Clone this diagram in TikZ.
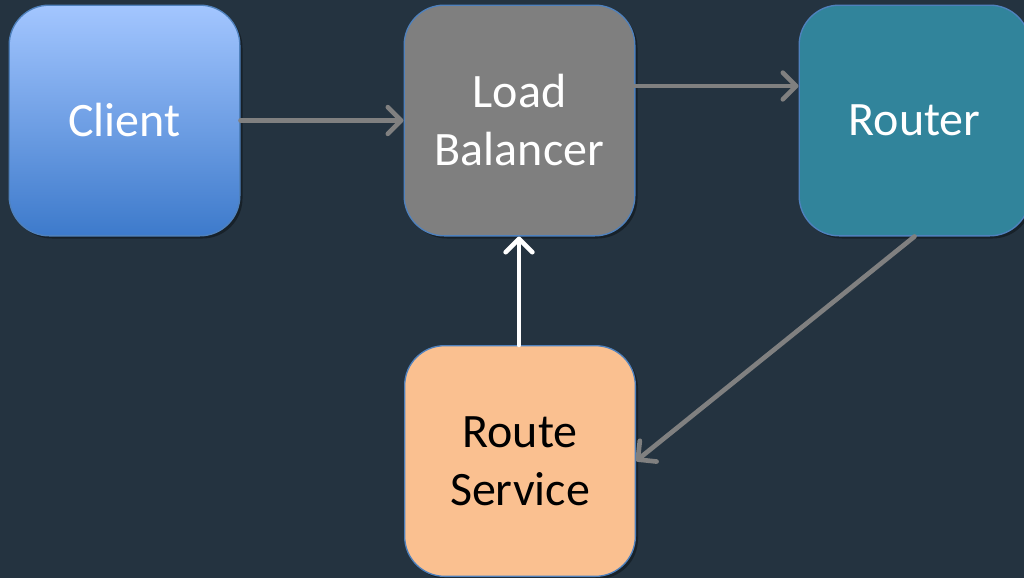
\documentclass[tikz,border=0pt]{standalone}
\usepackage{fontspec}
\setmainfont{Carlito}
\usetikzlibrary{arrows.meta,shadows}
\definecolor{bg}{HTML}{243340}
\definecolor{edgeblue}{HTML}{4F81BD}
\definecolor{cltop}{HTML}{A3C6FF}
\definecolor{clbot}{HTML}{3D7ACB}
\definecolor{lbgray}{HTML}{7F7F7F}
\definecolor{rtteal}{HTML}{31849B}
\definecolor{rspeach}{HTML}{FAC090}
\definecolor{arrgray}{HTML}{808080}
\tikzset{
  box/.style={draw=edgeblue, line width=1pt, rounded corners=30pt,
    minimum width=173pt, minimum height=173pt, align=center,
    font=\fontsize{36}{43.5}\selectfont, inner sep=0pt,
    drop shadow={shadow xshift=2pt, shadow yshift=-2pt, opacity=0.35, fill=black}},
  conn/.style={line width=3.5pt, draw=arrgray, line cap=round,
    -{Straight Barb[length=10pt,width=20pt,line width=3.5pt,round]}},
  wconn/.style={conn, draw=white}
}
\begin{document}
\begin{tikzpicture}[x=0.75pt,y=-0.75pt]
\useasboundingbox (0,0) rectangle (1024,578);
\fill[bg] (0,0) rectangle (1024,578);
\clip (0,0) rectangle (1024,578);
\node[box, top color=cltop, bottom color=clbot, text=white] (client) at (124.5,120.5) {Client};
\node[box, fill=lbgray, text=white] (lb) at (519.5,120.5) {Load\\Balancer};
\node[box, fill=rtteal, text=white] (router) at (914.5,120.5) {Router};
\node[box, fill=rspeach, text=black] (rs) at (520,461) {Route\\Service};
\draw[conn] (client.east) -- (lb.west);
\draw[conn] (lb.east |- 0,86) -- (router.west |- 0,86);
\draw[conn] (router.south) -- (rs.east);
\draw[wconn] (rs.north -| 519,0) -- (lb.south -| 519,0);
\end{tikzpicture}
\end{document}
